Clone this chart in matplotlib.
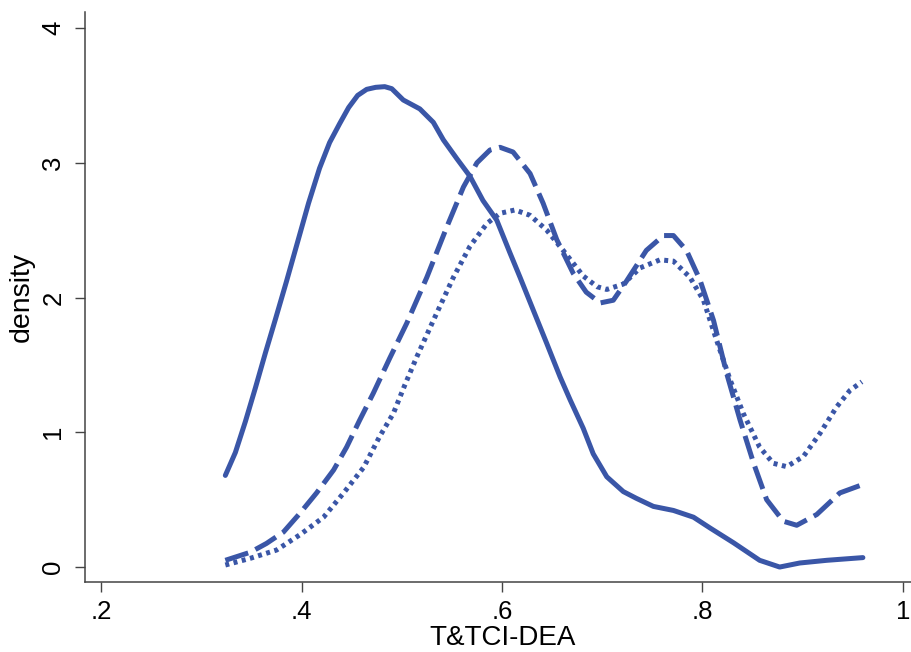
import matplotlib
matplotlib.use("Agg")
import matplotlib.pyplot as plt

# ---- data ----
solid_x = [0.324, 0.334, 0.344, 0.354, 0.364, 0.374, 0.385, 0.396, 0.407, 0.418,
           0.428, 0.438, 0.447, 0.456, 0.465, 0.474, 0.483, 0.49, 0.5015, 0.518,
           0.5315, 0.5415, 0.555, 0.568, 0.581, 0.5947, 0.608, 0.618, 0.631, 0.6446,
           0.651, 0.658, 0.668, 0.681, 0.691, 0.7045, 0.721, 0.734, 0.751, 0.771,
           0.791, 0.8075, 0.831, 0.857, 0.877, 0.897, 0.924, 0.96]
solid_y = [0.68, 0.85, 1.08, 1.33, 1.59, 1.84, 2.12, 2.41, 2.70, 2.96,
           3.15, 3.29, 3.41, 3.50, 3.545, 3.56, 3.565, 3.55, 3.466, 3.40,
           3.30, 3.17, 3.03, 2.90, 2.72, 2.575, 2.33, 2.15, 1.91, 1.66,
           1.54, 1.41, 1.24, 1.03, 0.84, 0.67, 0.56, 0.51, 0.45, 0.42,
           0.37, 0.29, 0.18, 0.05, 0.00, 0.03, 0.05, 0.07]

dash_x = [0.324, 0.349, 0.365, 0.382, 0.3985, 0.415, 0.432, 0.445, 0.458, 0.4716,
          0.488, 0.505, 0.525, 0.545, 0.5615, 0.575, 0.588, 0.598, 0.611, 0.628,
          0.641, 0.6546, 0.671, 0.684, 0.698, 0.711, 0.724, 0.744, 0.761, 0.771,
          0.784, 0.7975, 0.811, 0.824, 0.8375, 0.851, 0.864, 0.8806, 0.894, 0.914,
          0.937, 0.959]
dash_y = [0.05, 0.11, 0.175, 0.26, 0.40, 0.55, 0.72, 0.89, 1.09, 1.29,
          1.55, 1.81, 2.15, 2.525, 2.82, 3.00, 3.095, 3.115, 3.08, 2.92,
          2.70, 2.43, 2.18, 2.04, 1.96, 1.98, 2.12, 2.35, 2.46, 2.46,
          2.35, 2.13, 1.83, 1.44, 1.09, 0.77, 0.50, 0.34, 0.31, 0.39,
          0.55, 0.61]

dot_x = [0.324, 0.349, 0.375, 0.3985, 0.422, 0.442, 0.462, 0.478, 0.4916, 0.503,
         0.515, 0.5315, 0.5515, 0.568, 0.585, 0.598, 0.613, 0.628, 0.6446, 0.661,
         0.681, 0.695, 0.7045, 0.721, 0.7377, 0.7576, 0.771, 0.7875, 0.801, 0.814,
         0.8275, 0.8407, 0.857, 0.8706, 0.884, 0.9006, 0.917, 0.934, 0.947, 0.959]
dot_y = [0.015, 0.065, 0.126, 0.24, 0.37, 0.55, 0.74, 0.97, 1.14, 1.35,
         1.56, 1.83, 2.15, 2.38, 2.55, 2.625, 2.65, 2.61, 2.50, 2.35,
         2.16, 2.08, 2.06, 2.10, 2.22, 2.28, 2.27, 2.15, 1.98, 1.685,
         1.39, 1.14, 0.89, 0.77, 0.745, 0.82, 0.99, 1.19, 1.31, 1.375]

x_ticks = [0.2, 0.4, 0.6, 0.8, 1.0]
x_ticklabels = [".2", ".4", ".6", ".8", "1"]
y_ticks = [0, 1, 2, 3, 4]
y_ticklabels = ["0", "1", "2", "3", "4"]
x_label = "T&TCI-DEA"
y_label = "density"

# ---- style ----
plt.rcParams['font.family'] = ['Liberation Sans', 'DejaVu Sans']
color = '#3a56a7'
lw = 3.6

fig = plt.figure(figsize=(9.11, 6.52), dpi=100)
ax = fig.add_axes([85/911, (652-582)/652, (911-85)/911, (582-12)/652])

ax.plot(solid_x, solid_y, color=color, lw=lw, solid_capstyle='round',
        solid_joinstyle='round')
ax.plot(dash_x, dash_y, color=color, lw=lw, dashes=(4.8, 1.6),
        dash_capstyle='butt', dash_joinstyle='round')
ax.plot(dot_x, dot_y, color=color, lw=lw, dashes=(0.8, 0.9),
        dash_capstyle='butt', dash_joinstyle='round')

ax.set_xlim(0.184, 1.008)
ax.set_ylim(-0.111, 4.119)

ax.set_xticks(x_ticks)
ax.set_xticklabels(x_ticklabels, fontsize=18.5)
ax.set_yticks(y_ticks)
ax.set_yticklabels(y_ticklabels, fontsize=18.5, rotation=90, va='center')

ax.tick_params(axis='both', length=7.2, width=1.0, color='#444444', pad=6)
ax.tick_params(axis='y', pad=7)

for s in ['top', 'right']:
    ax.spines[s].set_visible(False)
for s in ['left', 'bottom']:
    ax.spines[s].set_color('#444444')
    ax.spines[s].set_linewidth(1.1)

ax.set_xlabel(x_label, fontsize=20, va='baseline')
ax.xaxis.set_label_coords(503/911, 7/652, transform=fig.transFigure)
ax.set_ylabel(y_label, fontsize=20.5, labelpad=5)

fig.savefig("out.png", dpi=100)
